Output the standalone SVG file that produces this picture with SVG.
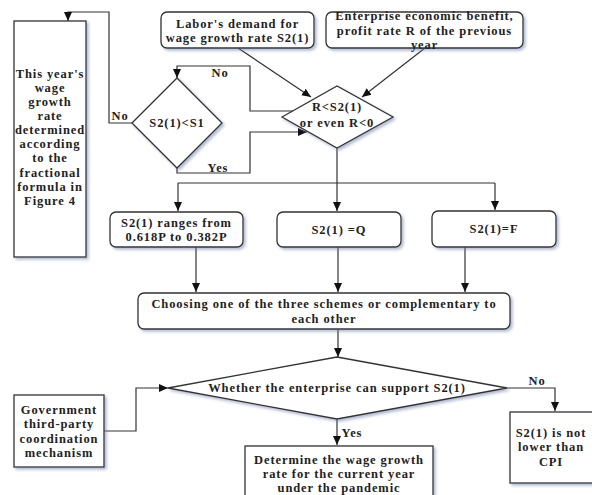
<svg xmlns="http://www.w3.org/2000/svg" width="592" height="495" viewBox="0 0 592 495">
<defs>
<filter id="sh" x="-10%" y="-10%" width="130%" height="130%">
<feDropShadow dx="2" dy="2" stdDeviation="1.5" flood-color="#7080a8" flood-opacity="0.55"/>
</filter>
<marker id="ah" markerUnits="userSpaceOnUse" markerWidth="10" markerHeight="10" viewBox="0 0 10 10" refX="9" refY="5" orient="auto">
<path d="M0,1 L9,5 L0,9 Z" fill="#111"/>
</marker>
</defs>
<style>
.box{fill:#fff;stroke:#333;stroke-width:1.3;filter:url(#sh)}
.t{font-family:"Liberation Serif","Times New Roman",serif;font-weight:bold;font-size:12.5px;letter-spacing:0.9px;fill:#222;text-anchor:middle}
.c{fill:none;stroke:#333;stroke-width:1.2}
.a{marker-end:url(#ah)}
</style>
<rect width="592" height="495" fill="#fff"/>

<g id="connectors">
<polyline class="c a" points="238,48 311,97"/>
<polyline class="c a" points="425,48 362,97"/>
<polyline class="c a" points="293,111 250,111 250,66 177,66 177,78"/>
<polyline class="c a" points="177,168 177,173 250,173 250,132 307,132"/>
<polyline class="c a" points="132,123 109,123 109,12 68,12 68,21"/>
<polyline class="c" points="337,148 337,183"/>
<polyline class="c" points="178,183 495,183"/>
<polyline class="c a" points="178,183 178,211"/>
<polyline class="c a" points="337,183 337,211"/>
<polyline class="c a" points="495,183 495,210"/>
<polyline class="c a" points="196,247 196,292"/>
<polyline class="c a" points="338,247 338,292"/>
<polyline class="c a" points="465,247 465,292"/>
<polyline class="c a" points="338,329 338,357"/>
<polyline class="c a" points="507,388 555,388 555,411"/>
<polyline class="c a" points="337,419 337,445"/>
<polyline class="c a" points="104,431 136,431 136,388 168,388"/>
<text class="t" x="220" y="77">No</text>
<text class="t" x="120" y="120">No</text>
<text class="t" x="218" y="172">Yes</text>
<text class="t" x="537" y="385">No</text>
<text class="t" x="352" y="437">Yes</text>
</g>

<g id="n_left">
<rect class="box" x="14" y="21" width="72" height="236"/>
<text class="t" x="50" y="78">This year's</text>
<text class="t" x="50" y="92">wage</text>
<text class="t" x="50" y="106">growth</text>
<text class="t" x="50" y="120">rate</text>
<text class="t" x="50" y="134">determined</text>
<text class="t" x="50" y="148">according</text>
<text class="t" x="50" y="162">to the</text>
<text class="t" x="50" y="177">fractional</text>
<text class="t" x="50" y="191">formula in</text>
<text class="t" x="50" y="205">Figure 4</text>
</g>

<g id="n_labor">
<rect class="box" x="161" y="12" width="153" height="36" rx="6"/>
<text class="t" x="237.5" y="28">Labor's demand for</text>
<text class="t" x="237.5" y="42">wage growth rate S2(1)</text>
</g>

<g id="n_enterprise">
<rect class="box" x="326" y="12" width="197" height="36" rx="6"/>
<text class="t" x="424.5" y="20">Enterprise economic benefit,</text>
<text class="t" x="424.5" y="35">profit rate R of the previous</text>
<text class="t" x="424.5" y="49">year</text>
</g>

<g id="n_rcheck">
<polygon class="box" points="282,117 337,86 393,117 337,148"/>
<text class="t" x="337" y="111">R&lt;S2(1)</text>
<text class="t" x="337" y="127">or even R&lt;0</text>
</g>

<g id="n_s1check">
<polygon class="box" points="132,123 177,78 222,123 177,168"/>
<text class="t" x="177" y="127">S2(1)&lt;S1</text>
</g>

<g id="n_range">
<rect class="box" x="110" y="212" width="133" height="35" rx="6"/>
<text class="t" x="176.5" y="227">S2(1) ranges from</text>
<text class="t" x="176.5" y="241">0.618P to 0.382P</text>
</g>

<g id="n_q">
<rect class="box" x="277" y="212" width="124" height="35" rx="6"/>
<text class="t" x="339" y="234">S2(1) =Q</text>
</g>

<g id="n_f">
<rect class="box" x="432" y="211" width="124" height="36" rx="6"/>
<text class="t" x="494" y="233">S2(1)=F</text>
</g>

<g id="n_choose">
<rect class="box" x="138" y="293" width="372" height="36" rx="6"/>
<text class="t" x="324" y="308">Choosing one of the three schemes or complementary to</text>
<text class="t" x="324" y="323">each other</text>
</g>

<g id="n_support">
<polygon class="box" points="168,388 337,357 507,388 337,419"/>
<text class="t" x="337" y="392">Whether the enterprise can support S2(1)</text>
</g>

<g id="n_cpi">
<rect class="box" x="510" y="412" width="84" height="71"/>
<text class="t" x="551" y="437">S2(1) is not</text>
<text class="t" x="551" y="451">lower than</text>
<text class="t" x="551" y="466">CPI</text>
</g>

<g id="n_determine">
<rect class="box" x="245" y="446" width="188" height="60"/>
<text class="t" x="339" y="464">Determine the wage growth</text>
<text class="t" x="339" y="478">rate for the current year</text>
<text class="t" x="339" y="492">under the pandemic</text>
</g>

<g id="n_gov">
<rect class="box" x="14" y="395" width="90" height="72"/>
<text class="t" x="59" y="414">Government</text>
<text class="t" x="59" y="428">third-party</text>
<text class="t" x="59" y="443">coordination</text>
<text class="t" x="59" y="457">mechanism</text>
</g>
</svg>
